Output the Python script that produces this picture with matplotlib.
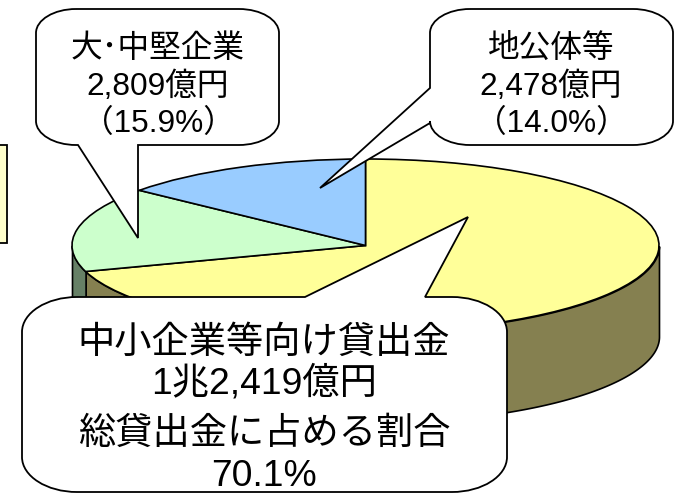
import numpy as np
import matplotlib
matplotlib.use("Agg")
import matplotlib.pyplot as plt
from matplotlib.path import Path
from matplotlib.patches import PathPatch, Rectangle

plt.rcParams['font.family'] = ['Liberation Sans', 'Noto Sans CJK JP', 'DejaVu Sans']

# loan balance, 億円
categories = ["中小企業等", "大・中堅企業", "地公体等"]
values = [12419, 2809, 2478]
top_colors = ["#FFFF99", "#CCFFCC", "#99CCFF"]
side_colors = ["#858050", "#668066", "#4D6680"]

depth = 1.05  # side height, in pie radii
W, H = 675, 493


def callout(ax, x0, y0, x1, y1, tail, side, rx=40, ry=24):
    # rounded box with a pointed tail, pixel coords, clockwise from top left
    k = 0.45
    verts = [(x0 + rx, y0)]
    codes = [Path.MOVETO]
    if side == "top":
        verts += tail
        codes += [Path.LINETO] * 3
    verts += [(x1 - rx, y0)]
    codes += [Path.LINETO]
    verts += [(x1 - rx * k, y0), (x1, y0 + ry * k), (x1, y0 + ry)]
    codes += [Path.CURVE4] * 3
    verts += [(x1, y1 - ry)]
    codes += [Path.LINETO]
    verts += [(x1, y1 - ry * k), (x1 - rx * k, y1), (x1 - rx, y1)]
    codes += [Path.CURVE4] * 3
    if side == "bottom":
        verts += tail
        codes += [Path.LINETO] * 3
    verts += [(x0 + rx, y1)]
    codes += [Path.LINETO]
    verts += [(x0 + rx * k, y1), (x0, y1 - ry * k), (x0, y1 - ry)]
    codes += [Path.CURVE4] * 3
    if side == "left":
        verts += tail
        codes += [Path.LINETO] * 3
    verts += [(x0, y0 + ry)]
    codes += [Path.LINETO]
    verts += [(x0, y0 + ry * k), (x0 + rx * k, y0), (x0 + rx, y0)]
    codes += [Path.CURVE4] * 3
    ax.add_patch(PathPatch(Path(verts, codes), facecolor="white", edgecolor="black", lw=1.3, zorder=5))


fig = plt.figure(figsize=(W / 100, H / 100), dpi=100)

# pie, squashed by the axes box
ax = fig.add_axes([72 / W, (H - 332) / H, 587 / W, 173 / H])
wedges, _ = ax.pie(values, colors=top_colors, startangle=90, counterclock=False, radius=1,
                   wedgeprops=dict(edgecolor="black", linewidth=1.2))
ax.set_aspect("auto")
ax.set_xlim(-1, 1)
ax.set_ylim(-1, 1)
for w in wedges:
    w.set_zorder(3)

# side wall, only the front half shows
for w, c in zip(wedges, side_colors):
    t = np.radians(np.linspace(w.theta1, w.theta2, 400))
    t = t[np.sin(t) < 0]
    if len(t) == 0:
        continue
    ax.fill_between(np.cos(t), np.sin(t), np.sin(t) - depth, facecolor=c, edgecolor="black",
                    linewidth=1.2, clip_on=False, zorder=2)

# overlay in pixel coords for the callouts
ov = fig.add_axes([0, 0, 1, 1])
ov.set_xlim(0, W)
ov.set_ylim(H, 0)
ov.axis("off")
ov.patch.set_alpha(0)

ov.add_patch(Rectangle((-5, 145), 12, 98, facecolor="#FFFFCC", edgecolor="black", lw=1.3))

callout(ov, 36, 9, 279, 145, [(138, 145), (138, 238), (78, 145)], "bottom")
callout(ov, 430, 9, 673, 145, [(430, 123), (320, 188), (430, 88)], "left")
callout(ov, 22, 297, 507, 492, [(305, 297), (468, 217), (425, 297)], "top", rx=55, ry=35)

small = dict(ha="center", va="center", fontsize=22.8, zorder=6)
ov.text(158, 49, "大･中堅企業", **small)
ov.text(158, 87, "2,809億円", **small)
ov.text(158, 124, "（15.9%）", **small)
ov.text(551, 49, "地公体等", **small)
ov.text(551, 87, "2,478億円", **small)
ov.text(551, 124, "（14.0%）", **small)

big = dict(ha="center", va="center", fontsize=26.8, zorder=6)
ov.text(264, 343, "中小企業等向け貸出金", **big)
ov.text(264, 384, "1兆2,419億円", **big)
ov.text(264, 434, "総貸出金に占める割合", **big)
ov.text(264, 477, "70.1%", **big)

fig.savefig("out.png", dpi=100)
